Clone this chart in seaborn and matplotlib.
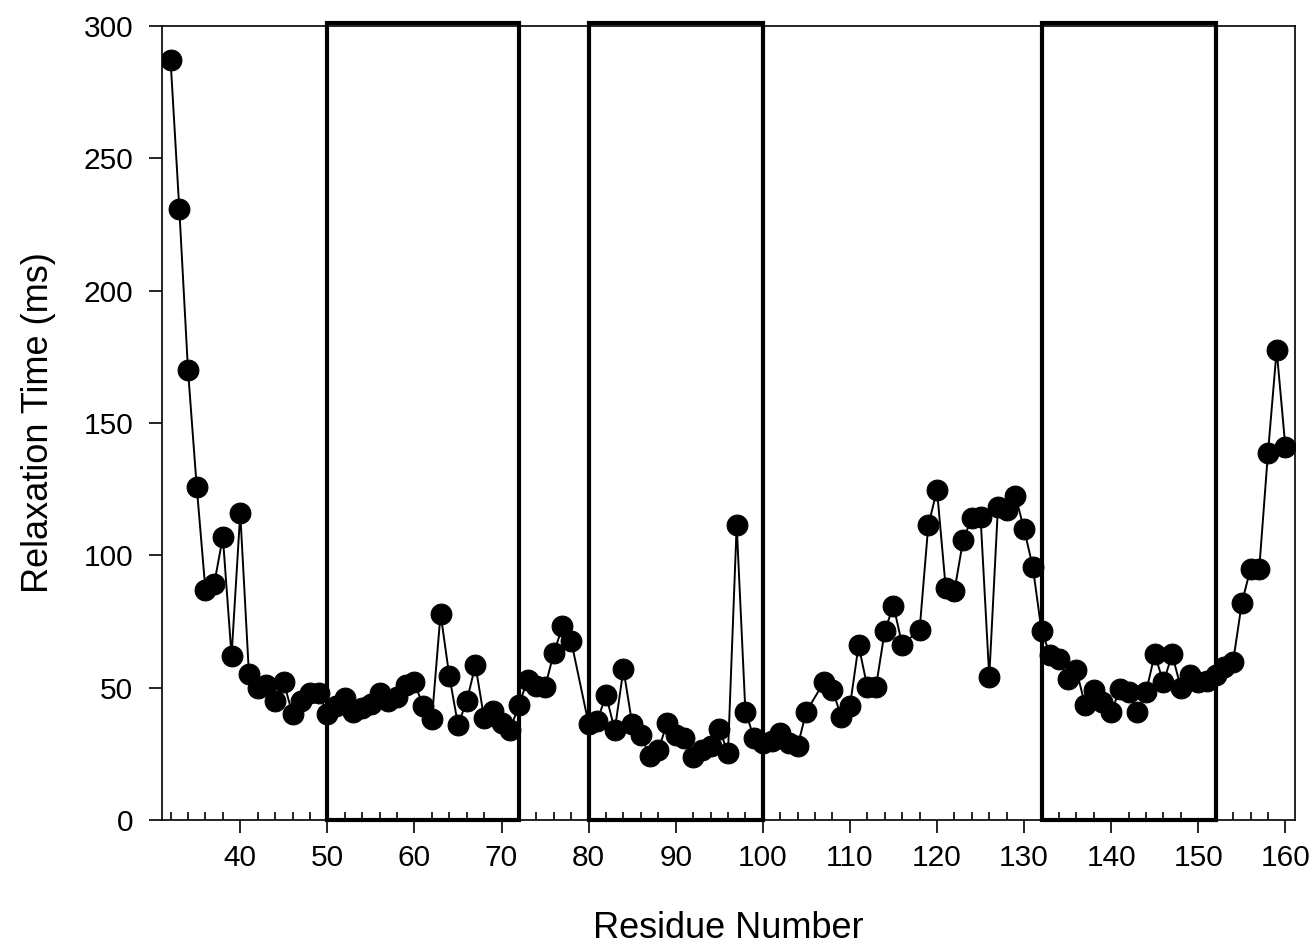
import numpy as np
import pandas as pd
import matplotlib.pyplot as plt
from matplotlib.patches import Rectangle
from matplotlib.ticker import MultipleLocator
import seaborn as sns

# residues 79, 106 and 117 have no value
residues = [32, 33, 34, 35, 36, 37, 38, 39, 40, 41, 42, 43, 44, 45, 46, 47, 48, 49,
            50, 51, 52, 53, 54, 55, 56, 57, 58, 59, 60, 61, 62, 63, 64, 65, 66, 67,
            68, 69, 70, 71, 72, 73, 74, 75, 76, 77, 78, 80, 81, 82, 83, 84, 85, 86,
            87, 88, 89, 90, 91, 92, 93, 94, 95, 96, 97, 98, 99, 100, 101, 102, 103,
            104, 105, 107, 108, 109, 110, 111, 112, 113, 114, 115, 116, 118, 119,
            120, 121, 122, 123, 124, 125, 126, 127, 128, 129, 130, 131, 132, 133,
            134, 135, 136, 137, 138, 139, 140, 141, 142, 143, 144, 145, 146, 147,
            148, 149, 150, 151, 152, 153, 154, 155, 156, 157, 158, 159, 160]
relax_ms = [287, 231, 170, 126, 87, 89, 107, 62, 116, 55, 50, 51, 45, 52, 40, 45,
            48, 48, 40, 43, 46, 41, 42.5, 44, 48, 44.8, 46.5, 51, 52, 43, 38, 78,
            54.5, 36, 44.8, 58.5, 38.5, 41.3, 36.5, 34.2, 43.6, 53, 50.6, 50.3, 63,
            73.2, 67.6, 36.3, 37.5, 47.2, 34, 57, 36.3, 32, 24.2, 26.4, 36.5, 32,
            31, 24, 26.4, 28, 34.5, 25.2, 111.5, 41, 31, 29, 30, 32.7, 29, 28, 41,
            52, 49.3, 39, 43, 66, 50.3, 50.4, 71.4, 81, 66.3, 71.7, 111.3, 124.7,
            87.8, 86.5, 105.8, 114.2, 114.6, 54, 118.4, 117, 122.6, 109.9, 95.7,
            71.5, 62.4, 60.7, 53.2, 56.7, 43.5, 49, 44.7, 40.7, 49.4, 48.5, 41,
            48.3, 62.6, 52, 62.6, 50, 54.8, 52, 52.6, 54.8, 58, 59.8, 82, 95, 95,
            138.6, 177.6, 141]

# boxed regions (start, end residue)
box_starts = [50, 80, 132]
box_ends = [72, 100, 152]

df = pd.DataFrame({'Residue Number': residues, 'Relaxation Time (ms)': relax_ms})

sns.set_style('ticks')
plt.rcParams['font.family'] = ['Liberation Sans', 'DejaVu Sans']
plt.rcParams.update({'text.color': 'black', 'axes.labelcolor': 'black',
                     'xtick.color': 'black', 'ytick.color': 'black',
                     'axes.edgecolor': 'black'})

fig = plt.figure(figsize=(13.16, 9.48), dpi=100)
ax = fig.add_axes([0.123, 0.135, 0.861, 0.8375])

sns.lineplot(data=df, x='Residue Number', y='Relaxation Time (ms)', ax=ax,
             color='black', linewidth=1.4, marker='o', markersize=15,
             markeredgecolor='black', markerfacecolor='black', zorder=3)

for s, e in zip(box_starts, box_ends):
    ax.add_patch(Rectangle((s, 0), e - s, 301.2, fill=False, edgecolor='black',
                           linewidth=3, clip_on=False, zorder=4))

ax.set_xlim(31, 161.1)
ax.set_ylim(0, 300)
ax.xaxis.set_minor_locator(MultipleLocator(2))
ax.yaxis.set_major_locator(MultipleLocator(50))
ax.set_xticks(range(40, 161, 10))
ax.tick_params(axis='x', which='major', direction='out', length=9, width=1.2,
               labelsize=21.5, pad=8)
ax.tick_params(axis='x', which='minor', direction='in', length=6, width=1.2)
ax.tick_params(axis='y', which='major', direction='out', length=9.5, width=1.2,
               labelsize=21.5, pad=11)
for sp in ax.spines.values():
    sp.set_linewidth(1.2)
    sp.set_visible(True)

ax.set_xlabel('Residue Number', fontsize=26, labelpad=28)
ax.set_ylabel('Relaxation Time (ms)', fontsize=26, labelpad=20)

fig.savefig('out.png', dpi=100)
